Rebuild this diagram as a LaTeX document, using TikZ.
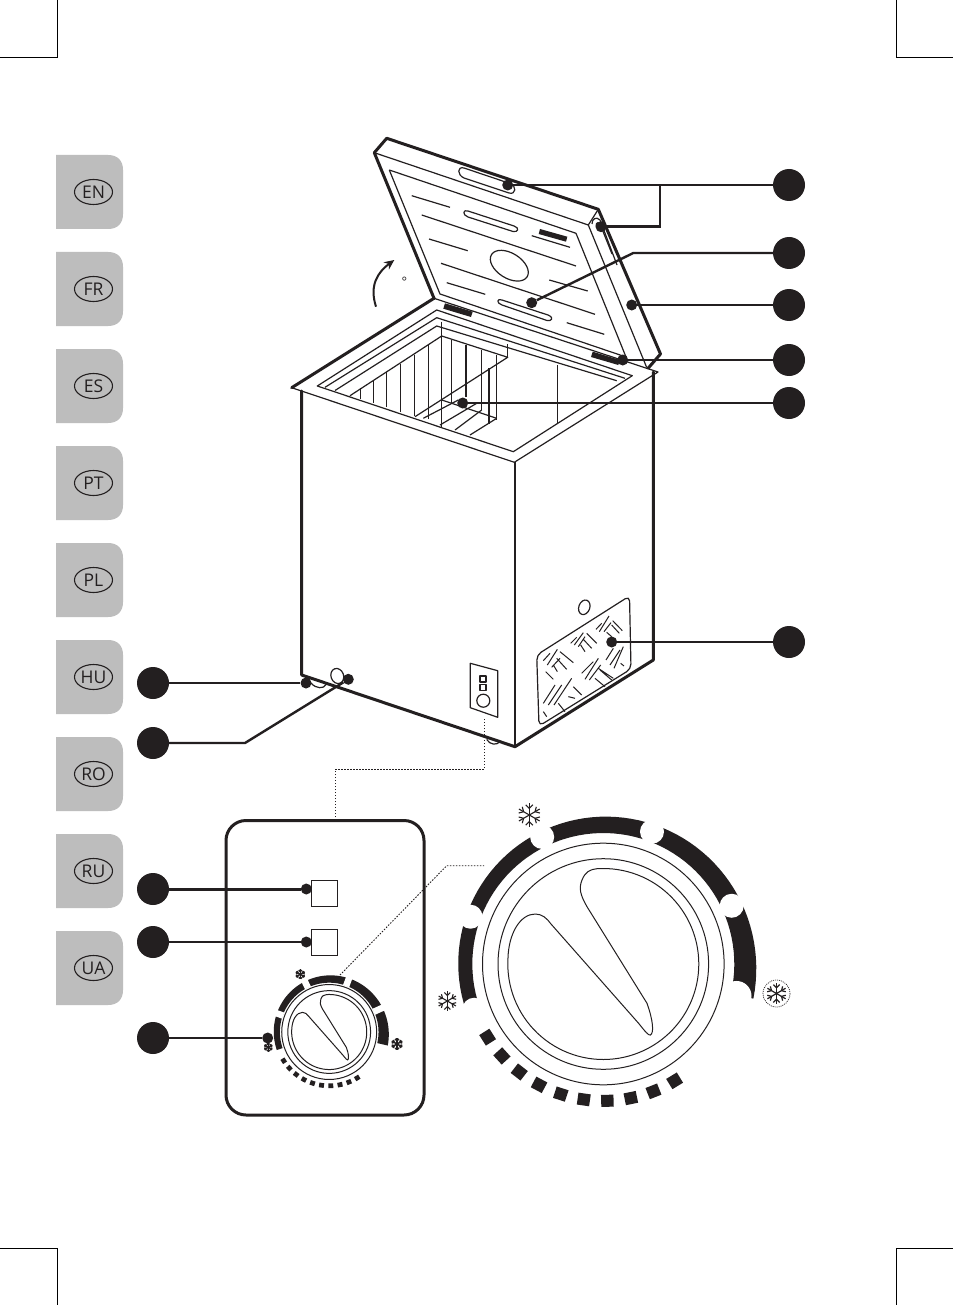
\documentclass[tikz,border=0pt]{standalone}
\usepackage{fontspec}
\setmainfont{Open Sans}
\usetikzlibrary{shapes.geometric,arrows.meta}
\definecolor{tabgray}{HTML}{BDBDBD}
\definecolor{inkblack}{HTML}{231F20}
% centre x, centre y, scale, inner radius, blob radius, cut width, outer base, outer growth
\newcommand{\mknob}[8]{%
  \begin{scope}[shift={(#1,#2)},scale=#3]
    \fill[inkblack] plot[domain=-13:199,samples=70] ({(#7+#8*pow((199-\x)/212,2))*cos(\x)},{-(#7+#8*pow((199-\x)/212,2))*sin(\x)})
      -- plot[domain=199:-13,samples=70] ({#4*cos(\x)},{-#4*sin(\x)}) -- cycle;
    \foreach \a in {160.4,115.7,69.8,24.4}{
      \fill[white] ({(#4+10)*cos(\a)},{-(#4+10)*sin(\a)}) circle[radius=#5];
      \draw[white,line width=#6] ({(#4-1)*cos(\a)},{-(#4-1)*sin(\a)}) -- ({170*cos(\a)},{-170*sin(\a)});
    }
    \fill[white] ({(#4+6)*cos(-13.5)},{-(#4+6)*sin(-13.5)}) circle[radius=#5*1.25];
    \fill[white] ({(#4+6)*cos(199.5)},{-(#4+6)*sin(199.5)}) circle[radius=#5];
    \draw[knobline] (0,0) circle[radius=120.8];
    \draw[knobline] (0,0) circle[radius=105.3];
    \draw[knobline] plot[domain=266.2:543.4,samples=90] ({95.5*cos(\x)},{95.5*sin(\x)})
      .. controls (-94.7,-30.7) and (-83,-50) .. (-68,-50)
      .. controls (-61.3,-50) and (-56.3,-45.7) .. (-52.3,-40)
      -- (35.3,59.3)
      .. controls (42,67.7) and (45.3,71.7) .. (47,71)
      .. controls (51,69.3) and (49.7,56) .. (43.7,39.3)
      -- (-16.3,-57.3)
      .. controls (-23,-69) and (-24.7,-75.7) .. (-21.3,-84)
      .. controls (-18,-92.3) and (-13,-94.7) .. (-6.3,-95.3);
    \foreach \a in {212.3,222.2,...,302}
      \draw[inkblack,line width=#3*12pt] ({137*cos(\a-2.6)},{-137*sin(\a-2.6)}) -- ({137*cos(\a+2.6)},{-137*sin(\a+2.6)});
  \end{scope}}
\newcommand{\flake}[4]{%
  \begin{scope}[shift={(#1,#2)},line width=#4]
    \foreach \a in {30,90,...,330}{
      \draw[inkblack] (0,0) -- ({#3*cos(\a)},{#3*sin(\a)});
      \draw[inkblack] ({.55*#3*cos(\a)},{.55*#3*sin(\a)}) -- ({.55*#3*cos(\a)+.42*#3*cos(\a+45)},{.55*#3*sin(\a)+.42*#3*sin(\a+45)});
      \draw[inkblack] ({.55*#3*cos(\a)},{.55*#3*sin(\a)}) -- ({.55*#3*cos(\a)+.42*#3*cos(\a-45)},{.55*#3*sin(\a)+.42*#3*sin(\a-45)});
    }
  \end{scope}}
\tikzset{
  thickline/.style={line width=3pt,inkblack,line join=round,line cap=round},
  thinline/.style={line width=1.2pt,inkblack,line join=round},
  midline/.style={line width=1.7pt,inkblack,line join=round},
  knobline/.style={line width=1pt,inkblack},
  vent/.style={line width=1pt,inkblack},
  leader/.style={line width=2.4pt,inkblack},
  linkdot/.style={line width=.9pt,inkblack,dash pattern=on 1.5pt off 1.5pt},
  crop/.style={line width=.8pt,black},
  callout/.style={circle,fill=inkblack,minimum size=32pt,inner sep=0pt},
  pin/.style={circle,fill=inkblack,minimum size=11pt,inner sep=0pt},
  langoval/.style={ellipse,draw=inkblack,line width=1.1pt,minimum width=38pt,minimum height=25pt,inner sep=0pt,font=\fontsize{17.5}{17.5}\selectfont,text=inkblack},
}
\begin{document}
\begin{tikzpicture}[x=1pt,y=-1pt]
\useasboundingbox (0,0) rectangle (953,1305);
\fill[white] (0,0) rectangle (953,1305);
% crop marks
\draw[crop] (57,0) -- (57,57) -- (0,57);
\draw[crop] (896,0) -- (896,57) -- (953,57);
\draw[crop] (57,1305) -- (57,1248) -- (0,1248);
\draw[crop] (896,1305) -- (896,1248) -- (953,1248);
% language tabs
\foreach \n/\t in {0/EN,1/FR,2/ES,3/PT,4/PL,5/HU,6/RO,7/RU,8/UA}{
  \begin{scope}[shift={(0,97*\n)}]
    \fill[tabgray] (56,155) -- (108,155) .. controls (118,155) and (123,161) .. (123,170) -- (123,214) .. controls (123,223) and (118,229) .. (108,229) -- (56,229) -- cycle;
    \node[langoval] (lang\t) at (93.5,192) {\t};
  \end{scope}}
% lid
\draw[thickline] (434,298.3) -- (374.3,152.7) -- (386.7,138.3) -- (598.3,209.3) -- (660.5,354) -- (648.3,368);
\draw[thinline] (374.3,152.7) -- (588.3,225) -- (598.3,209.3);
\draw[thinline] (588.3,225) -- (646.7,367.5);
\draw[thinline] (389.3,170) -- (576,233.3) -- (626,357);
\draw[thinline] (389.3,170) -- (440,294) -- (626,357);
\draw[thinline] (464,168) -- (510,183.5) .. controls (517,186) and (516,195) .. (509,193) -- (464,178) .. controls (457,175) and (457,166) .. (464,168) -- cycle;
\draw[thinline] (468,211) -- (514,226) .. controls (520,228) and (518,232.5) .. (513,231.5) -- (468,217) .. controls (462,215) and (463,209) .. (468,211) -- cycle;
\draw[thinline] (502,300) -- (548,315) .. controls (555,318) and (551,321.5) .. (547,320.5) -- (502,305) .. controls (496,303) and (497,298) .. (502,300) -- cycle;
\draw[thinline] (509.3,265.7) ellipse[x radius=21,y radius=12.5,rotate=-32];
\foreach \a/\b/\c/\d in {411.7/195.7/450/207.3, 421.7/215/576/266, 429/239/467.7/250.7, 441/263.3/595/314.3, 446.7/282.7/485.3/294.3, 549.3/280/587.7/291, 566.7/322.7/604.3/334.3, 531.7/235.7/570/247.3}
  \draw[thinline] (\a,\b) -- (\c,\d);
\fill[inkblack] (540,229) -- (567.3,236.7) -- (566,241.7) -- (538.7,234) -- cycle;
\fill[inkblack] (445,303.3) -- (472.7,311.7) -- (471,317) -- (443.3,308.7) -- cycle;
\fill[inkblack] (592.7,351.7) -- (620,360) -- (618.3,365) -- (591,357) -- cycle;
% lid side handle
\draw[thinline] (592,224) .. controls (592,219) and (596,216) .. (600,220) -- (617,265);
\draw[thinline] (597,228) .. controls (595,224) and (597,221) .. (600,224) -- (612,254);
% rotation arrow
\draw[line width=2pt,inkblack,-{Stealth[length=10pt,width=9pt]}] (376,306.7) .. controls (369,285) and (378,272) .. (394.3,260);
\node[font=\fontsize{13}{13}\selectfont,text=inkblack,inner sep=0pt] (deg) at (404.5,282) {°};
% cabinet top
\draw[thickline] (291.7,387.7) -- (434,298.3);
\draw[thinline] (434,298.3) -- (658,372) -- (514.3,462.3) -- (291.7,387.7);
\draw[thinline] (317.3,386) -- (436.7,310) -- (632.3,375.7) -- (513.3,451.7) -- cycle;
\draw[thinline] (325,387.3) -- (436.7,317.7) -- (625,378.3);
\draw[thinline] (335,390.5) -- (436.7,326) -- (616.7,380.7);
\draw[thinline] (350,395.7) -- (441.7,336) -- (507.7,357.3) -- (415,416.7);
\draw[thinline] (507.7,344) -- (507.7,357.3);
% basket
\foreach \x/\a/\b in {360.7/388/399.3, 373.3/380/403.3, 386.7/372/407.3, 400.7/364/411.7, 414.7/354.7/416, 428.7/345/419.3, 441.7/321.7/426.7, 451.7/340/403, 466/345/397, 481.7/350/410, 496.7/355/420, 489/368/424}
  \draw[thinline] (\x,\a) -- (\x,\b);
\draw[thinline] (557.7,365) -- (557.7,423);
\draw[thinline] (441.7,400) -- (496.7,418.3);
\draw[thinline] (423.3,418.3) -- (458.3,400);
\draw[thinline] (440,425) -- (476.7,403.3);
\draw[thinline] (455,430) -- (481.7,410);
\draw[thinline] (470,435) -- (496.7,418.3);
% cabinet body
\draw[thickline] (301.7,391) -- (301.7,675) -- (515,746.7) -- (653.3,660) -- (653.3,372);
\draw[midline] (515,462.3) -- (515,746.7);
% feet
\draw[thinline] (311,683) .. controls (316,689) and (324,689) .. (326,684.5);
\draw[thinline] (486.7,739.5) .. controls (490,745) and (497,745.5) .. (500,741.5);
\draw[thinline] (337.3,676) ellipse[x radius=6.3,y radius=7.7,rotate=20];
% control plate on cabinet
\draw[thinline] (470.3,663.3) -- (497.7,670.7) -- (497.7,717.3) -- (470.3,707.7) -- cycle;
\draw[thinline] (480,676) rectangle (486,682);
\draw[thinline] (480,684.5) rectangle (486,690.5);
\draw[thinline] (483.3,700.7) circle[radius=6.5];
% vent
\draw[thinline] (584.3,607.3) ellipse[x radius=5.5,y radius=7.5,rotate=-20];
\draw[thinline,rounded corners=5pt] (536.7,655) -- (629.5,596) -- (631,669) -- (539,726) -- cycle;
\begin{scope}[shift={(530,590)},scale=.3333]
\draw[vent] (198,118)--(215,100) (208,125)--(237,78) (222,125)--(243,98) (248,92)--(277,122) (245,105)--(268,130) (230,127)--(245,140)
 (122,160)--(140,142) (133,165)--(160,128) (145,170)--(165,140) (170,130)--(200,160) (160,148)--(185,175) (152,165)--(165,185)
 (40,212)--(60,190) (52,225)--(82,178) (65,232)--(90,205) (90,185)--(130,218) (80,205)--(110,238) (70,225)--(82,245) (47,245)--(70,268)
 (228,210)--(250,175) (240,225)--(270,180) (252,235)--(280,170) (210,240)--(245,270) (272,220)--(282,228)
 (155,250)--(190,215) (165,268)--(205,205) (178,270)--(212,225) (205,235)--(250,265) (195,265)--(225,290)
 (40,340)--(75,285) (55,345)--(95,285) (72,345)--(125,265) (40,365)--(50,380) (85,340)--(105,365) (130,290)--(155,315) (115,320)--(135,325);
\end{scope}
% dotted links
\draw[linkdot] (335,820) -- (335,769) -- (484,769) -- (484,717);
\draw[linkdot] (340,975) -- (446.7,865.7) -- (484,865.7);
% panel
\draw[line width=3pt,inkblack,rounded corners=20pt] (226,820.5) rectangle (424,1115);
\node[draw=inkblack,line width=1pt,minimum size=26.5pt,inner sep=0pt] (sq1) at (324.5,893.5) {};
\node[draw=inkblack,line width=1pt,minimum size=26.5pt,inner sep=0pt] (sq2) at (324.5,942.5) {};
\mknob{329.2}{1032}{0.393}{125.5}{0}{6.5pt}{141}{12}
\mknob{603.3}{964}{1}{131}{12}{0.1pt}{145}{9}
% snowflakes
\flake{529.3}{815}{12}{1.1pt}
\flake{447.3}{1001}{10}{1.1pt}
\flake{776.5}{993.5}{10.5}{1.2pt}
\draw[line width=.7pt,inkblack,dash pattern=on 1pt off 1pt] (776.5,993.5) circle[radius=13.5];
\flake{300.3}{974.3}{5}{1.5pt}
\flake{268.3}{1047.3}{4.5}{1.5pt}
\flake{397}{1044}{6}{1.5pt}
% callouts and pins
\node[callout] (c1) at (789,185) {};
\node[callout] (c2) at (789,253) {};
\node[callout] (c3) at (789,305) {};
\node[callout] (c4) at (789,360) {};
\node[callout] (c5) at (789,403) {};
\node[callout] (c6) at (789,642) {};
\node[callout] (c7) at (153,683) {};
\node[callout] (c8) at (153,743) {};
\node[callout] (c9) at (153,889) {};
\node[callout] (c10) at (153,942) {};
\node[callout] (c11) at (153,1038) {};
\node[pin] (p1a) at (507.7,185) {};
\node[pin] (p1b) at (601,226.7) {};
\node[pin] (p2) at (531.7,302.7) {};
\node[pin] (p3) at (631.7,305) {};
\node[pin] (p4) at (622.7,360) {};
\node[pin] (p5) at (462.7,403) {};
\node[pin] (p6) at (611.7,642) {};
\node[pin] (p7) at (306,683) {};
\node[pin] (p8) at (348.3,679.3) {};
\node[pin] (p9) at (306.3,889) {};
\node[pin] (p10) at (306.3,942) {};
\node[pin] (p11) at (267.7,1038) {};
\coordinate (b1) at (660,185);
\coordinate (b1d) at (660,226.7);
\coordinate (b2) at (633.3,253);
\coordinate (b8) at (245,743);
\draw[leader] (c1) -- (p1a);
\draw[leader] (b1) -- (b1d) -- (p1b);
\draw[leader] (c2) -- (b2) -- (p2);
\draw[leader] (c3) -- (p3);
\draw[leader] (c4) -- (p4);
\draw[leader] (c5) -- (p5);
\draw[leader] (c6) -- (p6);
\draw[leader] (c7) -- (p7);
\draw[leader] (c8) -- (b8) -- (p8);
\draw[leader,line width=3pt] (c9) -- (p9);
\draw[leader] (c10) -- (p10);
\draw[leader] (c11) -- (p11);
\end{tikzpicture}
\end{document}
